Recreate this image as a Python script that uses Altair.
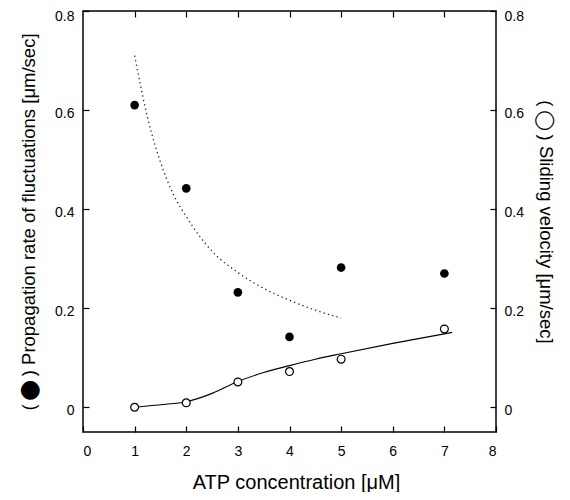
import altair as alt
import pandas as pd

# Data
atp = [1, 2, 3, 4, 5, 7]
propagation = [0.61, 0.442, 0.232, 0.142, 0.282, 0.270]
sliding = [0.0, 0.009, 0.051, 0.072, 0.097, 0.158]

dotted_x = [1.0, 1.25, 1.5, 1.75, 2.0, 2.5, 3.0, 3.5, 4.0, 4.5, 5.0]
dotted_y = [0.71, 0.585, 0.495, 0.43, 0.385, 0.315, 0.272, 0.24, 0.216, 0.196, 0.18]

solid_x = [1.0, 1.5, 2.0, 2.5, 3.0, 3.5, 4.0, 4.5, 5.0, 6.0, 7.15]
solid_y = [0.0, 0.005, 0.011, 0.028, 0.052, 0.07, 0.084, 0.097, 0.108, 0.129, 0.151]

x_ticks = [0, 1, 2, 3, 4, 5, 6, 7, 8]
y_ticks = [0, 0.2, 0.4, 0.6, 0.8]

pts = pd.DataFrame({"atp": atp, "prop": propagation, "slide": sliding})
dotted = pd.DataFrame({"x": dotted_x, "y": dotted_y})
solid = pd.DataFrame({"x": solid_x, "y": solid_y})

FONT = "Liberation Sans, DejaVu Sans"
xscale = alt.Scale(domain=[0, 8], nice=False, zero=False)
yscale = alt.Scale(domain=[-0.05, 0.8], nice=False, zero=False)

common_axis = dict(
    offset=-6, tickSize=6, domain=False, grid=False, tickColor="black",
    tickWidth=1.2, labelFont=FONT, labelFontSize=14, labelColor="black",
    titleFont=FONT, titleFontWeight="normal", titleColor="black",
)
ylabel = "datum.value == 0 ? '0' : format(datum.value, '.1f')"
yoffset = {"condition": {"test": "datum.value >= 0.79", "value": 5}, "value": 3}

x_bottom = alt.Axis(values=x_ticks, title="ATP concentration [μM]", orient="bottom",
                    labelPadding=12, titlePadding=14, titleFontSize=20, titleX=213,
                    format="d", **common_axis)
x_top = alt.Axis(values=x_ticks[1:-1], title=None, orient="top", labels=False, **common_axis)

y_left = alt.Axis(values=y_ticks,
                  title="(\u2009⬤\u2009) Propagation rate of fluctuations [μm/sec]",
                  orient="left", labelPadding=9, labelOffset=yoffset, titlePadding=16,
                  titleFontSize=18.5, labelExpr=ylabel, **common_axis)
y_right = alt.Axis(values=y_ticks, title="(\u2009◯\u2009) Sliding velocity [μm/sec]",
                   orient="right", labelPadding=8, labelOffset=yoffset, titlePadding=12,
                   titleFontSize=18.5, labelExpr=ylabel, **common_axis)

filled = alt.Chart(pts).mark_circle(size=75, color="black", opacity=1).encode(
    x=alt.X("atp:Q", scale=xscale, axis=x_bottom),
    y=alt.Y("prop:Q", scale=yscale, axis=y_left),
)
dotted_line = alt.Chart(dotted).mark_line(
    color="#222222", strokeWidth=1.3, strokeDash=[1.3, 3.2], interpolate="monotone"
).encode(
    x=alt.X("x:Q", scale=xscale),
    y=alt.Y("y:Q", scale=yscale),
)

open_pts = alt.Chart(pts).mark_point(
    shape="circle", size=62, filled=True, fill="white", stroke="black", strokeWidth=1.2, opacity=1
).encode(
    x=alt.X("atp:Q", scale=xscale, axis=x_top),
    y=alt.Y("slide:Q", scale=yscale, axis=y_right),
)
solid_line = alt.Chart(solid).mark_line(
    color="black", strokeWidth=1.1, interpolate="monotone"
).encode(
    x=alt.X("x:Q", scale=xscale),
    y=alt.Y("y:Q", scale=yscale),
)

left = alt.layer(dotted_line, filled)
right = alt.layer(solid_line, open_pts)

chart = alt.layer(left, right).resolve_scale(
    x="independent", y="independent"
).properties(
    width=413, height=421,
    autosize=alt.AutoSizeParams(type="none"),
    padding={"left": 75, "top": 3, "right": 66, "bottom": 60},
    background="white",
).configure_view(
    stroke="black", strokeWidth=1.5
)

chart.save("out.html", embed_options={"renderer": "svg", "actions": False})
